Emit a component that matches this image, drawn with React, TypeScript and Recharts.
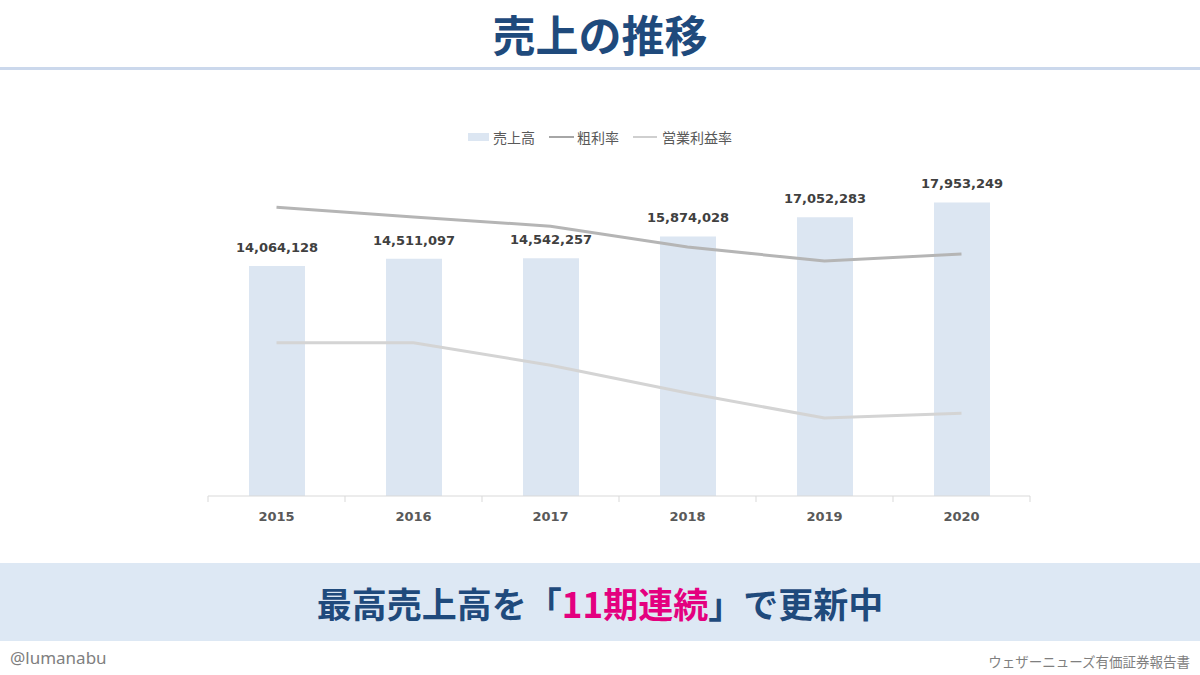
import { Bar, ComposedChart, LabelList, Legend, Line, XAxis, YAxis } from "recharts";

const years = ["2015", "2016", "2017", "2018", "2019", "2020"];
const sales = [14064128, 14511097, 14542257, 15874028, 17052283, 17953249];
const grossMargin = [53.0, 51.2, 49.5, 45.7, 43.1, 44.4];
const operatingMargin = [28.1, 28.1, 24.0, 18.9, 14.3, 15.2];
const legendOrder = ["sales", "gross", "operating"];

const data = years.map((year, i) => ({
  year,
  sales: sales[i],
  gross: grossMargin[i],
  operating: operatingMargin[i],
}));

const NAVY = "#1f4a7c";
const JP = "'Noto Sans CJK JP', 'Noto Sans', sans-serif";
const NUM = "'DejaVu Sans', Verdana, sans-serif";

const YearTick = (props: any) => {
  const { x, y, payload, index, visibleTicksCount } = props;
  const half = payload?.offset ?? 68.5;
  const top = y - 6;
  return (
    <g>
      <line x1={x - half} y1={top} x2={x - half} y2={top + 6} stroke="#d9d9d9" />
      {index === visibleTicksCount - 1 && (
        <line x1={x + half} y1={top} x2={x + half} y2={top + 6} stroke="#d9d9d9" />
      )}
      <text x={x} y={y} dy={19} textAnchor="middle" fill="#595959" fontSize={13} fontWeight={700} fontFamily={NUM}>
        {payload.value}
      </text>
    </g>
  );
};

const SalesLabel = (props: any) => {
  const { x, y, width, value } = props;
  return (
    <text x={x + width / 2} y={y - 14} textAnchor="middle" fill="#404040" fontSize={13} fontWeight={700} fontFamily={NUM}>
      {Number(value).toLocaleString("en-US")}
    </text>
  );
};

const legendIcon: Record<string, JSX.Element> = {
  sales: <span style={{ display: "inline-block", width: 21, height: 8, background: "#dce6f2", marginRight: 4 }} />,
  gross: <span style={{ display: "inline-block", width: 25, height: 2, background: "#a6a6a6", marginRight: 3 }} />,
  operating: <span style={{ display: "inline-block", width: 24, height: 2, background: "#cfcfcf", marginRight: 5 }} />,
};

const LegendContent = (props: any) => {
  const items = [...(props.payload || [])].sort(
    (a: any, b: any) => legendOrder.indexOf(a.dataKey) - legendOrder.indexOf(b.dataKey)
  );
  return (
    <div style={{ display: "flex", justifyContent: "center", alignItems: "center", fontFamily: JP, fontSize: 14, color: "#595959" }}>
      {items.map((p: any) => (
        <div key={p.dataKey} style={{ display: "flex", alignItems: "center", margin: "0 7px" }}>
          {legendIcon[p.dataKey]}
          <span>{p.value}</span>
        </div>
      ))}
    </div>
  );
};

export default function App() {
  return (
    <div style={{ position: "absolute", left: 0, top: 0, width: 1200, height: 675, background: "#ffffff", overflow: "hidden" }}>
      <div
        style={{
          position: "absolute",
          top: 5,
          width: 1200,
          textAlign: "center",
          fontFamily: JP,
          fontWeight: 700,
          fontSize: 43,
          lineHeight: "56px",
          color: NAVY,
        }}
      >
        売上の推移
      </div>
      <div style={{ position: "absolute", top: 67, left: 0, width: 1200, height: 3, background: "#cbd8ec" }} />

      <div style={{ position: "absolute", left: 0, top: 0 }}>
        <ComposedChart width={1200} height={675} data={data} margin={{ top: 169, right: 170, bottom: 149, left: 208 }}>
          <XAxis
            dataKey="year"
            axisLine={{ stroke: "#d9d9d9" }}
            tickLine={false}
            tickSize={6}
            tickMargin={0}
            height={30}
            tick={<YearTick />}
          />
          <YAxis yAxisId="left" hide domain={[0, 20000000]} />
          <YAxis yAxisId="right" orientation="right" hide domain={[0, 60]} />
          <Legend
            verticalAlign="middle"
            align="center"
            layout="horizontal"
            wrapperStyle={{ top: 127, left: 0, width: 1200 }}
            content={<LegendContent />}
          />
          <Bar yAxisId="left" dataKey="sales" name="売上高" fill="#dce6f2" barSize={56} isAnimationActive={false}>
            <LabelList dataKey="sales" content={<SalesLabel />} />
          </Bar>
          <Line
            yAxisId="right"
            dataKey="gross"
            name="粗利率"
            type="linear"
            stroke="#b5b5b5"
            strokeWidth={3}
            dot={false}
            isAnimationActive={false}
          />
          <Line
            yAxisId="right"
            dataKey="operating"
            name="営業利益率"
            type="linear"
            stroke="#d4d4d4"
            strokeWidth={3}
            dot={false}
            isAnimationActive={false}
          />
        </ComposedChart>
      </div>

      <div
        style={{
          position: "absolute",
          top: 563,
          left: 0,
          width: 1200,
          height: 78,
          background: "#dde8f4",
          display: "flex",
          alignItems: "center",
          justifyContent: "center",
          fontFamily: JP,
          fontWeight: 700,
          fontSize: 35,
          color: NAVY,
        }}
      >
        <span>
          最高売上高を「<span style={{ color: "#e4007f" }}>11期連続</span>」で更新中
        </span>
      </div>

      <div style={{ position: "absolute", left: 10, top: 646, fontFamily: "'Noto Sans', sans-serif", fontSize: 17, color: "#808080" }}>
        @lumanabu
      </div>
      <div style={{ position: "absolute", right: 10, top: 651, fontFamily: JP, fontSize: 13.5, color: "#7f7f7f" }}>
        ウェザーニューズ有価証券報告書
      </div>
    </div>
  );
}
